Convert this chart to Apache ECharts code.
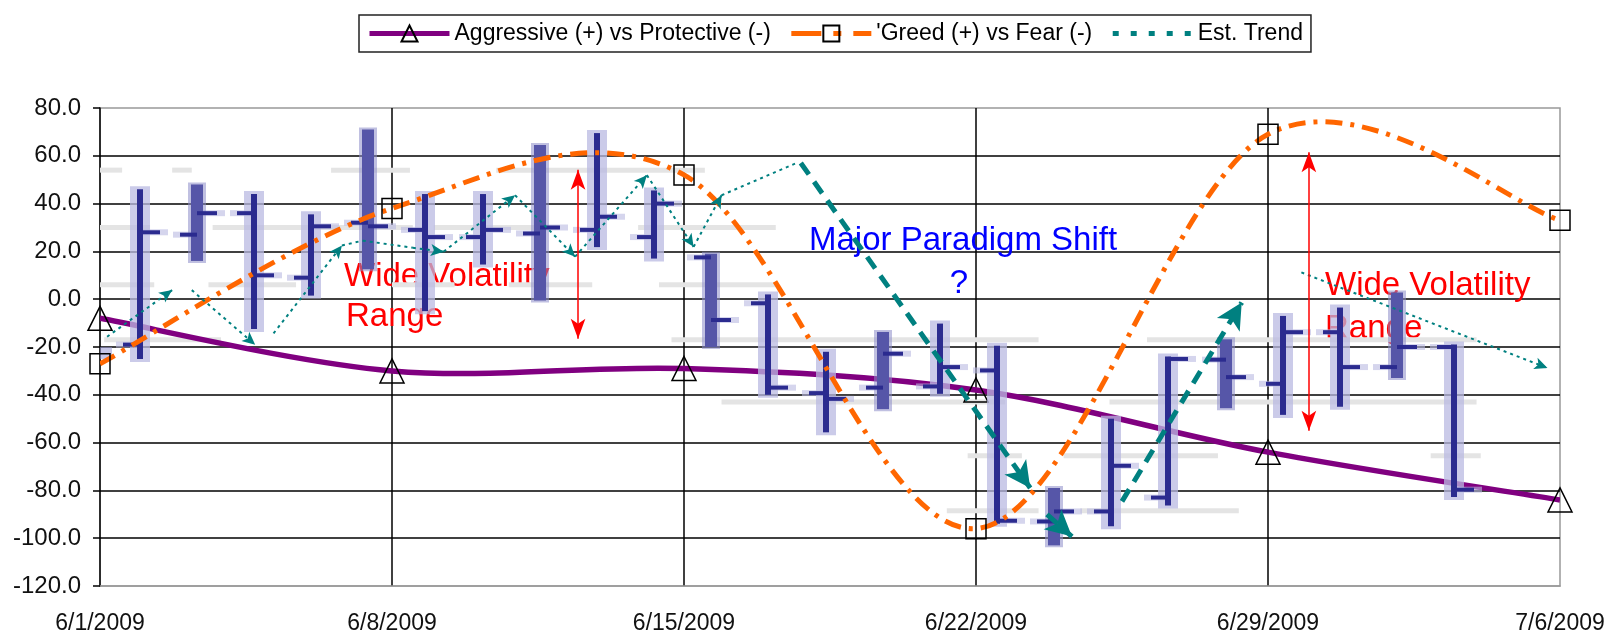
<!DOCTYPE html>
<html><head><meta charset="utf-8">
<script src="https://cdn.jsdelivr.net/npm/echarts@6/dist/echarts.min.js"></script>
<style>html,body{margin:0;padding:0;background:#fff}#c{width:1610px;height:639px}</style>
</head><body><div id="c"></div>
<script>
// ---------- DATA ----------
const xTickLabels = ['6/1/2009','6/8/2009','6/15/2009','6/22/2009','6/29/2009','7/6/2009'];
const weekDays = [0, 7, 14, 21, 28, 35];
const aggressive = [-8, -30, -29, -38, -64, -84];
const greed = [-27, 38, 52, -96, 69, 33];

// daily range bars (position index on the bar axis, open, close, low, high)
const barPos   = [0.37, 1, 2, 3, 4, 5, 6, 7, 8, 9, 10, 11, 12, 13, 14, 15, 16, 17, 18, 19, 20, 21, 22, 23, 24];
const barOpen  = [-22, -19, 27, 36, 9, 32, 29, 26, 27.5, 29, 26, 17.5, -1.7, -39.3, -37, -36.5, -29.8, -93, -88.8, -83, -25.3, -35.4, -13.8, -28.4, -20];
const barClose = [-22, 28, 36, 10, 30.5, 30.5, 26, 29, 30, 34.5, 40, -8.7, -37, -41.7, -22.8, -28.4, -92.7, -88.8, -69.7, -25, -32.6, -13.8, -28.4, -20, -79.7];
const barLow   = [-25, -25, 16, -12.5, 1.5, 12.5, -5, 14.5, -0.5, 21.8, 17, -20, -40, -55.7, -46, -39.6, -94, -103, -95, -86.3, -45.6, -48.4, -45, -33, -82.8];
const barHigh  = [-20, 46, 48, 44, 35.5, 71, 44, 44, 64.5, 69.5, 45.5, 19, 2, -22, -13.7, -10.2, -19.5, -79, -50, -24, -16.8, -7, -3.5, 2.8, -19];

// faint grey level dashes (from day, to day, level)
const ghostX1 = [0, 1.73, 5.54, 9.5, 0, 2.7, 8, 12.9, 0, 2.6, 7, 9.8, 13.4, 0.1, 13.7, 25.1, 14.9, 24.2, 20.8, 23.1, 31.9, 20.3, 23.5];
const ghostX2 = [0.53, 2.2, 7.43, 14.5, 1.2, 7.5, 11, 16.2, 1.3, 4.7, 8.5, 11.8, 16.2, 2.9, 22.5, 33, 21.7, 33, 22.1, 26.8, 33.1, 22.5, 27.3];
const ghostY  = [54, 54, 54, 54, 30, 30, 30, 30, 6, 6, 6, 6, 6, -17, -17, -17, -43, -43, -65.5, -65.5, -65.5, -88.5, -88.5];

// Est. Trend (thin dotted segments)
const thinTrendFrom = [[0.17,-15.7],[2.2,3.8],[4.16,-14.3],[5.8,22.5],[6.3,24.5],[7.5,21.5],[8.24,19.9],[9.95,43.5],[11.39,17.8],[13.11,51.9],[14.23,21.9],[14.9,43.5],[28.8,11.2]];
const thinTrendTo   = [[1.73,3.8],[3.72,-19.1],[5.8,22.5],[6.3,24.5],[7.5,21.5],[8.24,19.9],[9.95,43.5],[11.39,17.8],[13.11,51.9],[14.23,21.9],[14.9,43.5],[16.7,57],[34.7,-28.8]];
const thinTrendArrow = [1,1,1,0,0,1,1,1,1,1,1,0,1];
// Est. Trend (major shift, thick dashed)
const thickTrendFrom = [[16.8,57],[22.7,-90],[24.5,-84.6]];
const thickTrendTo   = [[22.3,-79],[23.3,-99.3],[27.37,-1.4]];

// volatility range arrows (day, top, bottom)
const rangeDay = [11.46, 28.98];
const rangeTop = [54.2, 61.5];
const rangeBottom = [-16.6, -55];

// ---------- STYLE ----------
const FONT = '"Liberation Sans", Arial, sans-serif';
const MEDIUM_BARS = [2, 5, 8, 11, 14, 17, 20, 23];
const GHOST_BARS = [0];
const NAVY = '#2B2B8F';
const NAME_A = 'Aggressive (+) vs Protective (-)';
const NAME_G = "'Greed (+) vs Fear (-)";
const NAME_T = 'Est. Trend';

function renderBar(params, api) {
  const i = params.dataIndex;
  const pos = api.value(0), o = api.value(1), c = api.value(2), lo = api.value(3), hi = api.value(4);
  const pt = api.coord([pos, hi]), pb = api.coord([pos, lo]);
  const po = api.coord([pos, o]), pc = api.coord([pos, c]);
  const x = Math.round(pt[0]);
  const h = pb[1] - pt[1];
  const kids = [];
  if (GHOST_BARS.includes(i)) {
    kids.push({type:'rect', shape:{x:x-8, y:pt[1], width:16, height:h}, style:{fill:'rgba(150,150,210,0.55)'}});
    return {type:'group', children:kids};
  }
  kids.push({type:'rect', shape:{x:x-24, y:po[1]-3, width:24, height:6}, style:{fill:'rgba(185,185,225,0.6)'}});
  kids.push({type:'rect', shape:{x:x, y:pc[1]-3, width:28, height:6}, style:{fill:'rgba(185,185,225,0.6)'}});
  if (MEDIUM_BARS.includes(i)) {
    kids.push({type:'rect', shape:{x:x-9, y:pt[1]-2, width:18, height:h+4}, style:{fill:'rgba(140,140,200,0.55)'}});
    kids.push({type:'rect', shape:{x:x-6, y:pt[1], width:12, height:h}, style:{fill:'#5656A8'}});
  } else {
    kids.push({type:'rect', shape:{x:x-10, y:pt[1]-3, width:20, height:h+6}, style:{fill:'rgba(185,185,225,0.75)'}});
    kids.push({type:'rect', shape:{x:x-3, y:pt[1], width:6, height:h}, style:{fill:NAVY}});
  }
  kids.push({type:'rect', shape:{x:x-17, y:po[1]-2, width:17, height:4}, style:{fill:NAVY}});
  kids.push({type:'rect', shape:{x:x, y:pc[1]-2, width:20, height:4}, style:{fill:NAVY}});
  return {type:'group', children:kids};
}

function renderGhost(params, api) {
  const a = api.coord([api.value(0), api.value(2)]);
  const b = api.coord([api.value(1), api.value(2)]);
  return {type:'rect', shape:{x:a[0], y:a[1]-2.5, width:b[0]-a[0], height:5}, style:{fill:'#E4E4E4'}};
}

// Spreadsheet-style smoothed curve (Catmull-Rom bezier) through points mapped by the axes
function curveRenderer(xs, ys, style) {
  return function (params, api) {
    if (params.dataIndex !== 0) return null;
    const P = xs.map((x, i) => api.coord([x, ys[i]]));
    const n = P.length;
    let d = 'M' + P[0][0] + ',' + P[0][1];
    for (let i = 0; i < n - 1; i++) {
      const p0 = P[Math.max(i - 1, 0)], p1 = P[i], p2 = P[i + 1], p3 = P[Math.min(i + 2, n - 1)];
      const c1x = p1[0] + (p2[0] - p0[0]) / 6, c1y = p1[1] + (p2[1] - p0[1]) / 6;
      const c2x = p2[0] - (p3[0] - p1[0]) / 6, c2y = p2[1] - (p3[1] - p1[1]) / 6;
      d += ' C' + c1x + ',' + c1y + ' ' + c2x + ',' + c2y + ' ' + p2[0] + ',' + p2[1];
    }
    return {type:'path', shape:{pathData:d}, style:Object.assign({fill:null}, style)};
  };
}

const thinSegs = thinTrendFrom.map((p, i) => [
  {coord: p, symbol: 'none'},
  {coord: thinTrendTo[i], symbol: thinTrendArrow[i] ? 'arrow' : 'none', symbolSize: [9, 13]}
]);
const thickSegs = thickTrendFrom.map((p, i) => [
  {coord: p, symbol: 'none'},
  {coord: thickTrendTo[i], symbol: 'arrow', symbolSize: [20, 26]}
]);
const rangeSegs = rangeDay.map((d, i) => [
  {coord: [d, rangeTop[i]], symbol: 'arrow', symbolSize: [11, 20]},
  {coord: [d, rangeBottom[i]], symbol: 'arrow', symbolSize: [11, 20]}
]);

const hollow = {color: 'rgba(0,0,0,0)', borderColor: '#000', borderWidth: 1.5};

const option = {
  animation: false,
  backgroundColor: '#fff',
  textStyle: {fontFamily: FONT},
  legend: {
    left: 359, top: 15,
    padding: [7, 8],
    borderColor: '#222', borderWidth: 1.5,
    itemWidth: 80, itemHeight: 20, itemGap: 18,
    textStyle: {fontSize: 23, color: '#000', fontFamily: FONT},
    data: [
      {name: NAME_A, lineStyle: {color: '#800080', width: 5, type: 'solid', opacity: 1}},
      {name: NAME_G, lineStyle: {color: '#FF6600', width: 5, type: [30, 12, 8, 12], opacity: 1}},
      {name: NAME_T, lineStyle: {color: '#008080', width: 5, type: [6, 12], opacity: 1},
       itemStyle: {color: 'rgba(0,0,0,0)', borderWidth: 0, opacity: 0}}
    ]
  },
  grid: {left: 100, right: 50, top: 108, bottom: 53, show: true, borderColor: '#999', borderWidth: 1.5, outerBoundsMode: 'none'},
  xAxis: [
    {
      type: 'value', min: 0, max: 35, interval: 7,
      axisLine: {show: true, onZero: false, lineStyle: {color: '#999', width: 1.5}},
      axisTick: {show: false},
      axisLabel: {fontSize: 23, color: '#111', margin: 26, fontFamily: FONT, showMaxLabel: true, showMinLabel: true,
                  formatter: v => xTickLabels[Math.round(v / 7)]},
      splitLine: {show: true, showMinLine: false, showMaxLine: false, lineStyle: {color: '#000', width: 1.5}}
    },
    {type: 'value', min: 0.306, max: 25.85, show: false}
  ],
  yAxis: {
    type: 'value', min: -120, max: 80, interval: 20,
    axisLine: {show: true, onZero: false, lineStyle: {color: '#000', width: 1.5}},
    axisTick: {show: true, length: 7, lineStyle: {color: '#000', width: 1.5}},
    axisLabel: {fontSize: 24, color: '#111', margin: 19, fontFamily: FONT, formatter: v => v.toFixed(1)},
    splitLine: {show: true, showMinLine: false, showMaxLine: false, lineStyle: {color: '#000', width: 1.5}}
  },
  graphic: [
    {type: 'text', x: 344, y: 277, z: 1, style: {text: 'Wide Volatility', fill: '#FF0000', font: '33px ' + FONT, verticalAlign: 'middle'}},
    {type: 'text', x: 346, y: 317, z: 1, style: {text: 'Range', fill: '#FF0000', font: '33px ' + FONT, verticalAlign: 'middle'}},
    {type: 'text', x: 1325, y: 286, z: 1, style: {text: 'Wide Volatility', fill: '#FF0000', font: '33px ' + FONT, verticalAlign: 'middle'}},
    {type: 'text', x: 1325, y: 329, z: 1, style: {text: 'Range', fill: '#FF0000', font: '33px ' + FONT, verticalAlign: 'middle'}},
    {type: 'text', x: 809, y: 241, z: 1, style: {text: 'Major Paradigm Shift', fill: '#0000FF', font: '33px ' + FONT, verticalAlign: 'middle'}},
    {type: 'text', x: 959, y: 284, z: 1, style: {text: '?', fill: '#0000FF', font: '33px ' + FONT, align: 'center', verticalAlign: 'middle'}}
  ],
  series: [
    {
      name: 'ghost', type: 'custom', xAxisIndex: 0, z: 1, silent: true, clip: true,
      renderItem: renderGhost,
      data: ghostX1.map((v, i) => [v, ghostX2[i], ghostY[i]])
    },
    {
      name: 'aggressiveCurve', type: 'custom', xAxisIndex: 0, z: 2, silent: true, clip: true,
      renderItem: curveRenderer(weekDays, aggressive, {stroke: '#800080', lineWidth: 5.5}),
      data: weekDays.map((d, i) => [d, aggressive[i]])
    },
    {
      name: NAME_A, type: 'line', xAxisIndex: 0, z: 2,
      symbol: 'triangle', symbolSize: [24, 24],
      lineStyle: {width: 0, opacity: 0},
      itemStyle: hollow,
      data: weekDays.map((d, i) => [d, aggressive[i]])
    },
    {
      name: 'bars', type: 'custom', xAxisIndex: 1, z: 3, silent: true, clip: true,
      renderItem: renderBar,
      data: barPos.map((p, i) => [p, barOpen[i], barClose[i], barLow[i], barHigh[i]])
    },
    {
      name: 'greedCurve', type: 'custom', xAxisIndex: 0, z: 4, silent: true, clip: true,
      renderItem: curveRenderer(weekDays, greed, {stroke: '#FF6600', lineWidth: 5, lineDash: [17, 8, 4, 8]}),
      data: weekDays.map((d, i) => [d, greed[i]])
    },
    {
      name: NAME_G, type: 'line', xAxisIndex: 0, z: 4,
      symbol: 'rect', symbolSize: [20, 20],
      lineStyle: {width: 0, opacity: 0},
      itemStyle: hollow,
      data: weekDays.map((d, i) => [d, greed[i]])
    },
    {
      name: NAME_T, type: 'line', xAxisIndex: 0, z: 5, symbol: 'none',
      lineStyle: {color: '#008080', width: 2, type: [3, 4]},
      itemStyle: {color: '#008080'},
      data: [],
      markLine: {
        silent: true, animation: false, label: {show: false},
        lineStyle: {color: '#008080', width: 2, type: [3, 4]},
        itemStyle: {color: '#008080'},
        data: thinSegs
      }
    },
    {
      name: 'major', type: 'line', xAxisIndex: 0, z: 5, symbol: 'none', data: [],
      markLine: {
        silent: true, animation: false, label: {show: false},
        lineStyle: {color: '#008080', width: 5, type: [14, 9]},
        itemStyle: {color: '#008080'},
        data: thickSegs
      }
    },
    {
      name: 'ranges', type: 'line', xAxisIndex: 0, z: 5, symbol: 'none', data: [],
      markLine: {
        silent: true, animation: false, label: {show: false},
        lineStyle: {color: '#FF0000', width: 1.5, type: 'solid'},
        itemStyle: {color: '#FF0000'},
        data: rangeSegs
      }
    }
  ]
};

const chart = echarts.init(document.getElementById('c'));
chart.setOption(option);
</script>
</body></html>
